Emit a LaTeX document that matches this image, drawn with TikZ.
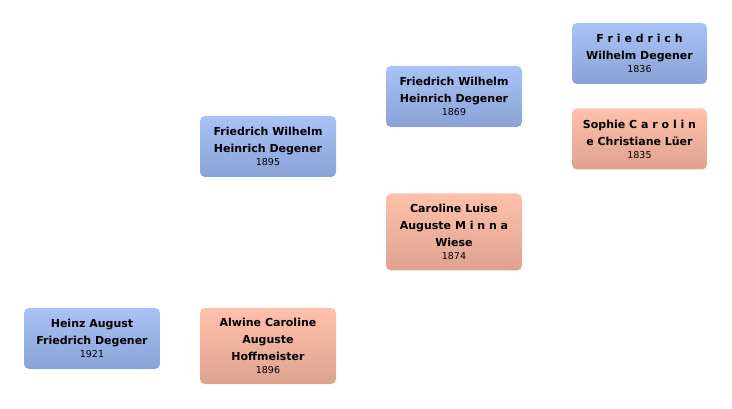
\documentclass[tikz,border=0pt]{standalone}
\usepackage{fontspec}
\setmainfont{DejaVu Sans}
\definecolor{bluetop}{HTML}{A8C3F7}
\definecolor{bluebot}{HTML}{8AA2D6}
\definecolor{pinktop}{HTML}{FFC1AB}
\definecolor{pinkbot}{HTML}{DEA291}
\tikzset{
  person/.style={rectangle, rounded corners=5pt, draw=none, minimum width=136pt,
    inner sep=0pt, align=center, font=\fontsize{11}{17}\selectfont\bfseries},
  male/.style={person, top color=bluetop, bottom color=bluebot},
  female/.style={person, top color=pinktop, bottom color=pinkbot},
}
\newcommand{\yr}[1]{\\[-4pt]{\fontsize{9.5}{11}\selectfont\mdseries #1}}
\begin{document}
\begin{tikzpicture}[x=1pt,y=-1pt]
\useasboundingbox (0,0) rectangle (732,409);
\node[male, minimum height=61pt] (heinz) at (92,338.5) {Heinz August\\Friedrich Degener\yr{1921}};
\node[male, minimum height=61pt] (fw1895) at (268,146.5) {Friedrich Wilhelm\\Heinrich Degener\yr{1895}};
\node[female, minimum height=76pt] (alwine) at (268,346) {Alwine Caroline\\Auguste\\Hoffmeister\yr{1896}};
\node[male, minimum height=61pt] (fw1869) at (454,96.5) {Friedrich Wilhelm\\Heinrich Degener\yr{1869}};
\node[female, minimum height=77pt] (caroline) at (454,232) {Caroline Luise\\Auguste M i n n a\\Wiese\yr{1874}};
\node[male, minimum height=61pt, minimum width=135pt] (fw1836) at (639.5,53.5) {F r i e d r i c h\\Wilhelm Degener\yr{1836}};
\node[female, minimum height=61pt, minimum width=135pt] (sophie) at (639.5,139) {Sophie C a r o l i n\\e Christiane Lüer\yr{1835}};
\end{tikzpicture}
\end{document}
